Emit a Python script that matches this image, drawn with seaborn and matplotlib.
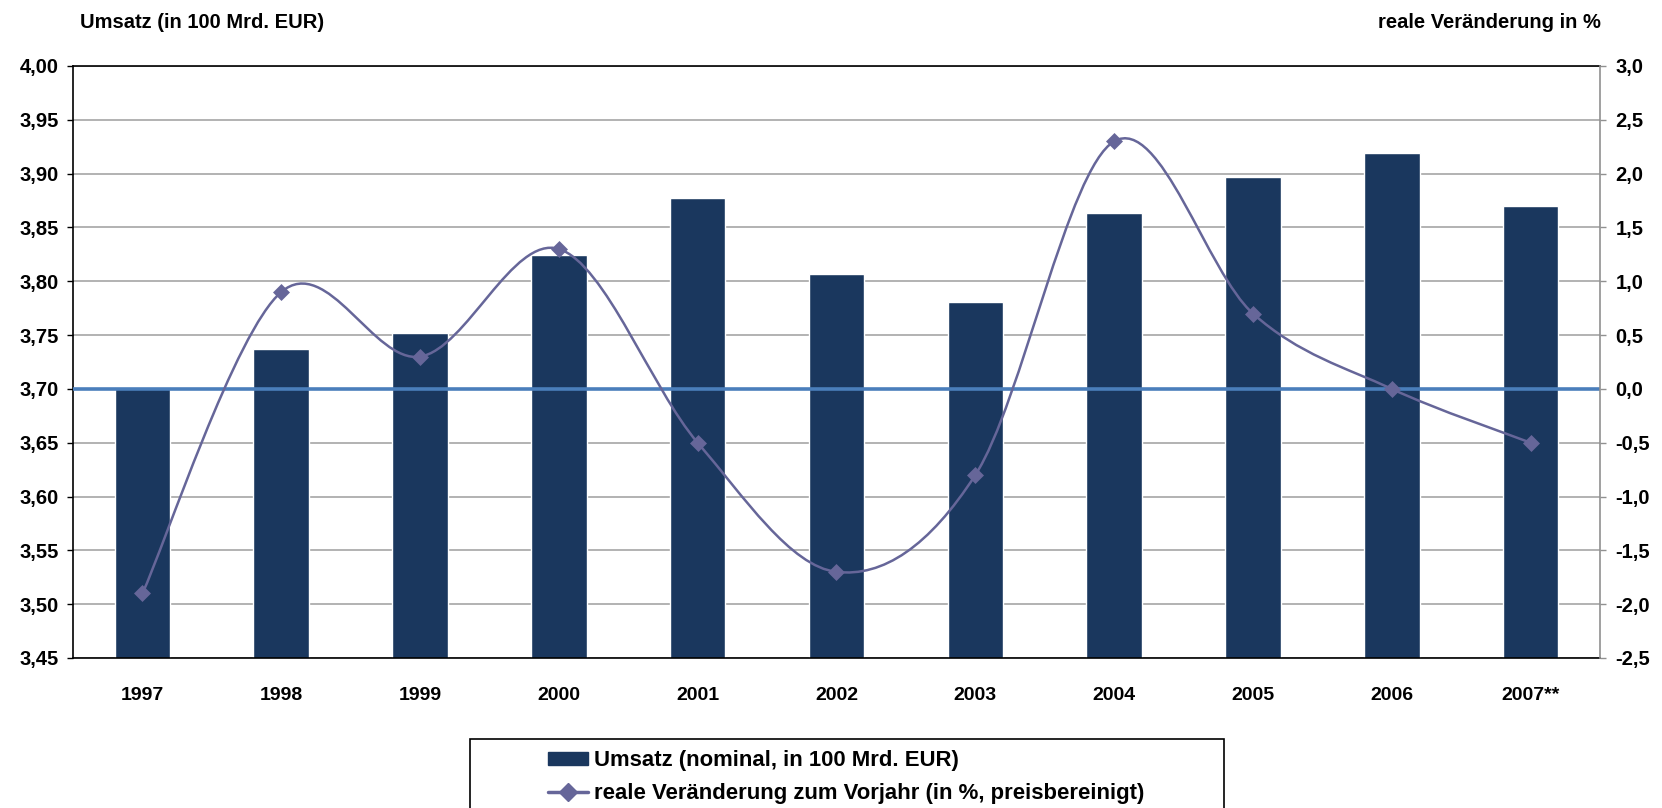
import numpy as np
import pandas as pd
import matplotlib
matplotlib.use("Agg")
import matplotlib.pyplot as plt
from matplotlib.path import Path
from matplotlib.patches import PathPatch, Rectangle
from matplotlib.lines import Line2D
from matplotlib.ticker import FuncFormatter, MultipleLocator, FixedLocator
import seaborn as sns

# ---------------- Daten ----------------
jahre = ["1997", "1998", "1999", "2000", "2001", "2002", "2003", "2004", "2005", "2006", "2007**"]
umsatz = [3.702, 3.737, 3.752, 3.824, 3.877, 3.807, 3.781, 3.863, 3.897, 3.919, 3.870]
veraenderung = [-1.9, 0.9, 0.3, 1.3, -0.5, -1.7, -0.8, 2.3, 0.7, 0.0, -0.5]

label_bar = "Umsatz (nominal, in 100 Mrd. EUR)"
label_line = "reale Veränderung zum Vorjahr (in %, preisbereinigt)"

BAR = "#1a375e"
LINE = "#666699"
NULL = "#4a7ebb"
GRID = "#a6a6a6"

sns.set_style("white")
plt.rcParams['font.family'] = ['Liberation Sans', 'DejaVu Sans']
plt.rcParams['font.weight'] = 'bold'
plt.rcParams['text.color'] = 'black'
plt.rcParams['xtick.labelcolor'] = 'black'
plt.rcParams['ytick.labelcolor'] = 'black'

df = pd.DataFrame({"jahr": jahre, "umsatz": umsatz, "veraenderung": veraenderung})

fig = plt.figure(figsize=(16.62, 8.08), dpi=100)
ax = fig.add_axes([73 / 1662, 1 - 658 / 808, (1600 - 73) / 1662, (658 - 66) / 808])

# ---------------- Balken (linke Achse) ----------------
sns.barplot(data=df, x="jahr", y="umsatz", color=BAR, saturation=1, width=0.4, ax=ax)
ax.set_ylim(3.45, 4.00)
ax.set_xlim(-0.5, len(jahre) - 0.5)
ax.yaxis.set_major_locator(MultipleLocator(0.05))
ax.yaxis.set_major_formatter(FuncFormatter(lambda v, p: f"{v:.2f}".replace(".", ",")))
ax.yaxis.grid(True, color=GRID, lw=1.2)
ax.set_axisbelow(True)
ax.axhline(3.70, color=NULL, lw=2.6, zorder=3)
ax.set_xlabel("")
ax.set_ylabel("")

ax.tick_params(axis="y", direction="out", length=4.5, width=1, color="black",
               labelcolor="black", labelsize=14.5, pad=6)
ax.tick_params(axis="x", which="major", length=0, labelcolor="black", labelsize=14, pad=21)
ax.xaxis.set_minor_locator(FixedLocator(np.arange(-0.5, len(jahre), 1.0)))
ax.tick_params(axis="x", which="minor", direction="inout", length=9, width=1, color="black")
for lab in ax.get_xticklabels() + ax.get_yticklabels():
    lab.set_fontweight("bold")

for s in ["left", "bottom", "top"]:
    ax.spines[s].set_color("black")
    ax.spines[s].set_linewidth(1.2)
ax.spines["right"].set_visible(False)

# ---------------- Linie (rechte Achse) ----------------
ax2 = ax.twinx()
ax2.set_ylim(-2.5, 3.0)
ax2.yaxis.set_major_locator(MultipleLocator(0.5))
ax2.yaxis.set_major_formatter(FuncFormatter(lambda v, p: f"{v:.1f}".replace(".", ",").replace("−", "-")))
ax2.tick_params(axis="y", direction="out", length=4, width=1, color="#909090",
                labelcolor="black", labelsize=14.5, pad=7)
for lab in ax2.get_yticklabels():
    lab.set_fontweight("bold")
for s in ["left", "bottom", "top"]:
    ax2.spines[s].set_visible(False)
ax2.spines["right"].set_color("#909090")
ax2.spines["right"].set_linewidth(1.2)

# geglaettete Linie wie in Excel (Catmull-Rom als Bezier)
xs = np.arange(len(veraenderung), dtype=float)
ys = np.array(veraenderung, dtype=float)
pts = np.column_stack([xs, ys])
ext = np.vstack([pts[0], pts, pts[-1]])
verts = [tuple(pts[0])]
codes = [Path.MOVETO]
for i in range(len(pts) - 1):
    p0, p1, p2, p3 = ext[i], ext[i + 1], ext[i + 2], ext[i + 3]
    c1 = p1 + (p2 - p0) / 6
    c2 = p2 - (p3 - p1) / 6
    verts += [tuple(c1), tuple(c2), tuple(p2)]
    codes += [Path.CURVE4] * 3
ax2.add_patch(PathPatch(Path(verts, codes), facecolor="none", edgecolor=LINE, lw=1.8, zorder=4))

sns.scatterplot(x=xs, y=ys, marker="D", s=75, color=LINE, edgecolor=LINE, linewidth=0,
                ax=ax2, zorder=5, legend=False)

# ---------------- Achsentitel ----------------
fig.text(80 / 1662, 1 - 23 / 808, "Umsatz (in 100 Mrd. EUR)", ha="left", va="center",
         fontsize=14.5, fontweight="bold", color="black")
fig.text(1601 / 1662, 1 - 23 / 808, "reale Veränderung in %", ha="right", va="center",
         fontsize=14.5, fontweight="bold", color="black")

# ---------------- Legende ----------------
fig.patches.append(Rectangle((470 / 1662, -0.05), (1224 - 470) / 1662, (808 - 739) / 808 + 0.05,
                             transform=fig.transFigure, facecolor="white", edgecolor="black",
                             lw=1.2, clip_on=False))
handles = [Rectangle((0, 0), 1, 1, facecolor=BAR, edgecolor=BAR),
           Line2D([0], [0], color=LINE, lw=2.5, marker="D", markersize=9)]
fig.legend(handles, [label_bar, label_line], loc="upper left",
           bbox_to_anchor=(548 / 1662, 1 - 750 / 808), frameon=False,
           prop={"family": ["Liberation Sans", "DejaVu Sans"], "weight": "bold", "size": 15.9},
           labelcolor="black",
           handlelength=1.8, handleheight=0.55, handletextpad=0.3, labelspacing=0.55,
           borderpad=0, borderaxespad=0)

fig.savefig("out.png", dpi=100)
